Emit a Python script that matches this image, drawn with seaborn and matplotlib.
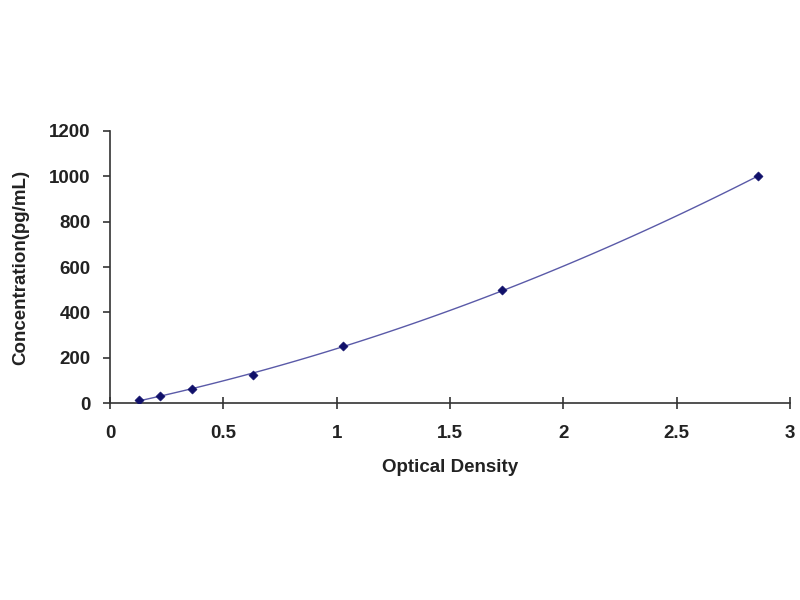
import numpy as np
import pandas as pd
import matplotlib
matplotlib.use('Agg')
import matplotlib.pyplot as plt
import seaborn as sns

# standard curve readings
od = [0.13, 0.22, 0.36, 0.63, 1.03, 1.73, 2.86]
conc = [15.6, 31.25, 62.5, 125, 250, 500, 1000]
xticks = [0, 0.5, 1, 1.5, 2, 2.5, 3]
xticklabels = ['0', '0.5', '1', '1.5', '2', '2.5', '3']
yticks = [0, 200, 400, 600, 800, 1000, 1200]

df = pd.DataFrame({'od': od, 'conc': conc})

sns.set_style('white')
plt.rcParams['font.family'] = ['Liberation Sans', 'DejaVu Sans']
plt.rcParams['font.weight'] = 'bold'

fig = plt.figure(figsize=(8, 6), dpi=100)
ax = fig.add_axes([0.1375, 0.328, 0.85, 0.454])

sns.regplot(data=df, x='od', y='conc', order=2, ci=None, ax=ax,
            scatter=False, line_kws={'color': '#5a5aa8', 'lw': 1.0})
sns.scatterplot(data=df, x='od', y='conc', ax=ax, marker='D', s=22,
                color='#10106a', edgecolor='#10106a', zorder=5)

ax.set_xlim(0, 3)
ax.set_ylim(0, 1200)
ax.set_xticks(xticks)
ax.set_xticklabels(xticklabels)
ax.set_yticks(yticks)

for s in ['top', 'right']:
    ax.spines[s].set_visible(False)
for s in ['left', 'bottom']:
    ax.spines[s].set_color('#333333')
    ax.spines[s].set_linewidth(1.2)

ax.tick_params(axis='x', bottom=True, direction='inout', length=8, width=1.2, colors='#333333',
               labelsize=13.5, pad=12, labelcolor='#222222')
ax.tick_params(axis='y', left=True, direction='out', length=5, width=1.2, colors='#333333',
               labelsize=13.5, pad=9, labelcolor='#222222')
ax.set_xlabel('Optical Density', fontsize=13.5, fontweight='bold', color='#222222', labelpad=12)
ax.set_ylabel('Concentration(pg/mL)', fontsize=13.5, fontweight='bold', color='#222222', labelpad=14)

fig.savefig('out.png', dpi=100)
